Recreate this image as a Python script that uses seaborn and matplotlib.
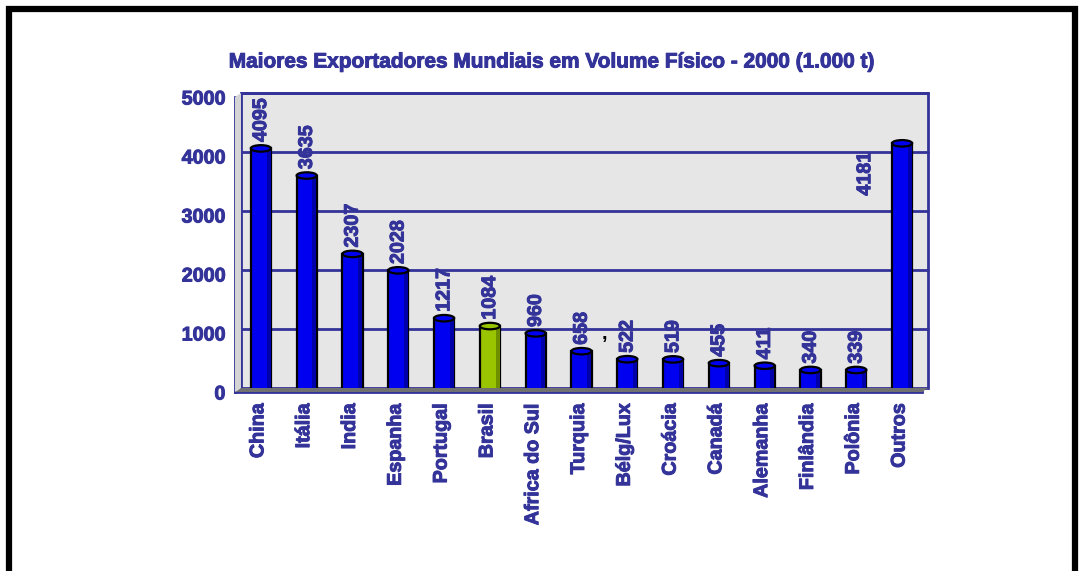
import numpy as np
import pandas as pd
import matplotlib
matplotlib.use("Agg")
import matplotlib.pyplot as plt
import matplotlib.transforms as mtransforms
import matplotlib.patheffects as pe
from matplotlib.patches import Ellipse, Rectangle, Polygon
import seaborn as sns

countries = ["China", "Itália", "India", "Espanha", "Portugal", "Brasil",
             "Africa do Sul", "Turquia", "Bélg/Lux", "Croácia", "Canadá",
             "Alemanha", "Finlândia", "Polônia", "Outros"]
volumes = [4095, 3635, 2307, 2028, 1217, 1084, 960, 658, 522, 519, 455,
           411, 340, 339, 4181]
highlight = "Brasil"
title = "Maiores Exportadores Mundiais em Volume Físico - 2000 (1.000 t)"
yticks = [0, 1000, 2000, 3000, 4000, 5000]

navy = "#333399"
blue = "#0000f0"
blue_dark = "#0000a8"
green = "#99c400"
green_dark = "#6e8f00"
fs = 14.2
thick = [pe.withStroke(linewidth=0.7, foreground=navy)]

sns.set_style("white")
plt.rcParams["font.family"] = ["Liberation Sans", "DejaVu Sans"]
plt.rcParams["font.weight"] = "bold"

W, H = 1082, 571
fig = plt.figure(figsize=(W / 100, H / 100), dpi=100)
fig.patch.set_facecolor("white")

# front plane of the pseudo-3D plot
ax = fig.add_axes([235 / W, 1 - 392 / H, 687 / W, 295 / H])
df = pd.DataFrame({"country": countries, "volume": volumes})
colors = {c: (green if c == highlight else blue) for c in countries}
sns.barplot(data=df, x="country", y="volume", hue="country", palette=colors,
            legend=False, width=0.44, edgecolor="black", linewidth=1.6,
            saturation=1, ax=ax, zorder=5)
bars = list(ax.patches)
ax.set_xlim(-0.5, len(countries) - 0.5)
ax.set_ylim(0, 5000)
ax.set_facecolor("none")
ax.set_xlabel("")
ax.set_ylabel("")

# back wall, floor and gridlines shifted up-right
dx, dy = 6 / 100, 4 / 100
off = ax.transData + mtransforms.ScaledTranslation(dx, dy, fig.dpi_scale_trans)
offa = ax.transAxes + mtransforms.ScaledTranslation(dx, dy, fig.dpi_scale_trans)
mid = ax.transData + mtransforms.ScaledTranslation(dx / 2, dy / 2, fig.dpi_scale_trans)
ax.add_patch(Rectangle((0, 0), 1, 1, transform=offa, facecolor="#e6e6e6",
                       edgecolor=navy, linewidth=2, zorder=0, clip_on=False))
x0, x1 = ax.get_xlim()
for yv in yticks[1:]:
    ax.plot([x0, x1], [yv, yv], color=navy, linewidth=2, transform=off,
            zorder=1, clip_on=False)
fx = ax.transAxes
inv = fig.transFigure.inverted()
# floor between front and back bottom edges
p_front = [fx.transform(p) for p in [(0, 0), (1, 0)]]
p_back = [offa.transform(p) for p in [(0, 0), (1, 0)]]
poly = [inv.transform(p) for p in [p_front[0], p_front[1], p_back[1], p_back[0]]]
fig.patches.append(Polygon(poly, closed=True, transform=fig.transFigure,
                           facecolor="#707070", edgecolor="none", zorder=0))
# left side wall
p_front = [fx.transform(p) for p in [(0, 0), (0, 1)]]
p_back = [offa.transform(p) for p in [(0, 0), (0, 1)]]
poly = [inv.transform(p) for p in [p_front[0], p_front[1], p_back[1], p_back[0]]]
fig.patches.append(Polygon(poly, closed=True, transform=fig.transFigure,
                           facecolor="#d4d4d4", edgecolor="none", zorder=0))

# cylinder look: shade right side, ellipse cap
for patch, c in zip(bars, countries):
    x, w, h = patch.get_x(), patch.get_width(), patch.get_height()
    patch.set_transform(mid)
    dark = green_dark if c == highlight else blue_dark
    ax.add_patch(Rectangle((x + w * 0.78, 0), w * 0.2, h, facecolor=dark,
                           edgecolor="none", zorder=6, transform=mid))
    top = green if c == highlight else blue
    ax.add_patch(Ellipse((x + w / 2, h), w, 110, facecolor=top,
                         edgecolor="black", linewidth=1.6, zorder=7,
                         transform=mid))

# value labels
for i, (c, v) in enumerate(zip(countries, volumes)):
    if c == "Outros":
        ax.text(i - 0.75, v - 480, str(v), rotation=90, ha="center",
                va="center", color=navy, fontsize=fs, fontweight="bold",
                zorder=8, path_effects=thick)
    else:
        ax.annotate(str(v), (i + 0.06, v), xytext=(0, 6),
                    textcoords="offset points", rotation=90, ha="center",
                    va="bottom", color=navy, fontsize=fs, fontweight="bold",
                    zorder=8, path_effects=thick)
ax.text(7.56, 1000, ",", ha="center", va="center", color="black",
        fontsize=fs, fontweight="bold", zorder=8)

# axes styling
for s in ["top", "right"]:
    ax.spines[s].set_visible(False)
for s in ["left", "bottom"]:
    ax.spines[s].set_color(navy)
    ax.spines[s].set_linewidth(2)
    ax.spines[s].set_zorder(9)
ax.set_yticks(yticks)
ax.set_yticklabels([str(t) for t in yticks])
ax.tick_params(axis="y", colors=navy, length=6, width=2, pad=1,
               labelsize=fs)
ax.set_xticks(range(len(countries)))
ax.set_xticklabels(countries, rotation=90)
ax.set_xticks(np.arange(-0.5, len(countries)), minor=True)
ax.tick_params(axis="x", which="major", length=0, pad=8, colors=navy,
               labelsize=fs)
ax.tick_params(axis="x", which="minor", length=7, width=2, color=navy)
for lab in ax.get_xticklabels() + ax.get_yticklabels():
    lab.set_fontweight("bold")
    lab.set_path_effects(thick)

fig.text(553 / W, 1 - 62 / H, title, ha="center", va="center", color=navy,
         fontsize=15, fontweight="bold", path_effects=thick)

# outer black frame
fig.patches.append(Rectangle((9 / W, -0.05), (1075 - 9) / W, 1.05 - 9 / H,
                             transform=fig.transFigure, fill=False,
                             edgecolor="black", linewidth=4.5, zorder=10))

fig.savefig("out.png", dpi=100)
